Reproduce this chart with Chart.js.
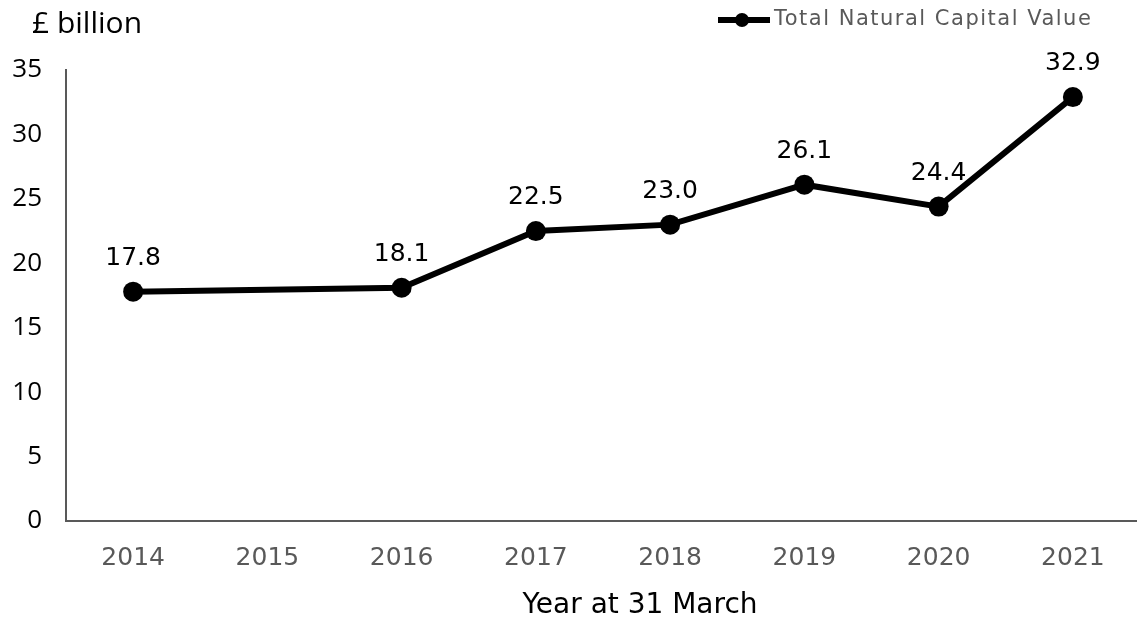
<!DOCTYPE html>
<html>
<head>
<meta charset="utf-8">
<script src="https://cdn.jsdelivr.net/npm/chart.js@4.4.1/dist/chart.umd.min.js"></script>
<style>
  body { margin: 0; background: #fff; overflow: hidden; }
  #wrap { width: 1150px; height: 621px; position: relative; }
</style>
</head>
<body>
<div id="wrap"><canvas id="natCapChart"></canvas></div>
<script>
const years = ["2014", "2015", "2016", "2017", "2018", "2019", "2020", "2021"];
const totalValue = [17.8, null, 18.1, 22.5, 23.0, 26.1, 24.4, 32.9];   // no figure for 2015
const seriesName = "Total Natural Capital Value";
const unitLabel = "£ billion";
const xTitle = "Year at 31 March";

const sansFont = "'Open Sans', 'Noto Sans', sans-serif";
const verdanaish = "'DejaVu Sans', Verdana, sans-serif";

// value labels above points, unit label, legend and x title
const extrasPlugin = {
    id: 'extras',
    afterDatasetsDraw(chart) {
        const ctx = chart.ctx;
        const meta = chart.getDatasetMeta(0);
        ctx.save();
        ctx.fillStyle = '#000';
        ctx.font = '25px ' + verdanaish;
        ctx.textAlign = 'center';
        ctx.textBaseline = 'bottom';
        meta.data.forEach((pt, i) => {
            const v = totalValue[i];
            if (v === null) return;
            ctx.fillText(v.toFixed(1), pt.x, pt.y - 21);
        });

        // x axis title, sits right of centre in the original
        ctx.textBaseline = 'middle';
        ctx.font = '28px ' + verdanaish;
        ctx.fillText(xTitle, 640, 606);

        // unit label top-left
        ctx.font = '30px ' + sansFont;
        ctx.textAlign = 'left';
        ctx.fillText(unitLabel, 32, 24);

        // legend top-right
        const lx = 718, ly = 20;
        ctx.strokeStyle = '#000';
        ctx.lineWidth = 6;
        ctx.beginPath();
        ctx.moveTo(lx, ly);
        ctx.lineTo(lx + 52, ly);
        ctx.stroke();
        ctx.beginPath();
        ctx.arc(lx + 24, ly, 7, 0, Math.PI * 2);
        ctx.fill();
        ctx.fillStyle = '#595959';
        ctx.font = '21px ' + verdanaish;
        ctx.letterSpacing = '1.5px';
        ctx.fillText(seriesName, lx + 56, ly);
        ctx.restore();
    }
};

new Chart(document.getElementById('natCapChart'), {
    type: 'line',
    data: {
        labels: years,
        datasets: [{
            label: seriesName,
            data: totalValue,
            borderColor: '#000',
            backgroundColor: '#000',
            borderWidth: 6,
            pointRadius: 10,
            pointHoverRadius: 10,
            pointBackgroundColor: '#000',
            pointBorderWidth: 0,
            spanGaps: true,
            tension: 0
        }]
    },
    options: {
        responsive: true,
        maintainAspectRatio: false,
        animation: false,
        layout: { padding: { top: 70, left: 0, right: 0, bottom: 0 } },
        plugins: {
            legend: { display: false },
            tooltip: { enabled: false }
        },
        scales: {
            x: {
                offset: true,
                grid: { display: false, drawTicks: false },
                border: { display: true, color: '#595959', width: 2 },
                ticks: {
                    color: '#595959',
                    font: { family: verdanaish, size: 25 },
                    padding: 22
                },
                afterFit(scale) { scale.height = 100; }
            },
            y: {
                min: 0,
                max: 35,
                grid: { display: false, drawTicks: false },
                border: { display: true, color: '#595959', width: 2 },
                ticks: {
                    stepSize: 5,
                    color: '#000',
                    font: { family: sansFont, size: 26 },
                    padding: 24
                },
                afterFit(scale) { scale.width = 66; }
            }
        }
    },
    plugins: [extrasPlugin]
});
</script>
</body>
</html>
